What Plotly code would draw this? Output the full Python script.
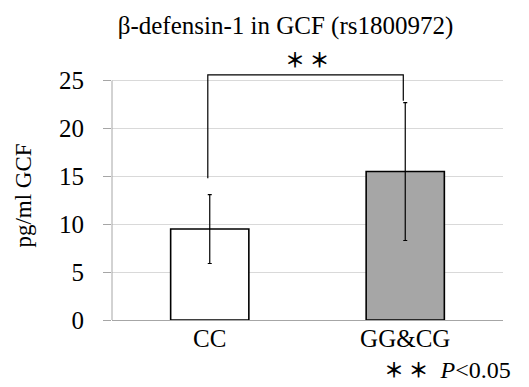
import plotly.graph_objects as go

categories = ["CC", "GG&CG"]
means = [9.5, 15.5]
sd = [3.6, 7.2]
bar_colors = ["#ffffff", "#a6a6a6"]
y_ticks = [0, 5, 10, 15, 20, 25]

# significance bracket (category index, value)
bracket_x = [-0.01, -0.01, 0.99, 0.99]
bracket_y = [14.8, 25.6, 25.6, 22.9]

FONT = "Liberation Serif, Times New Roman, serif"
CJK = "Noto Sans CJK JP"

# the page body has an 8px default margin; size the figure to fit the window
W, H = 521, 379

fig = go.Figure()
fig.add_trace(go.Bar(
    x=[0, 1], y=means, width=0.4,
    marker=dict(color=bar_colors, line=dict(color="#000000", width=1.6)),
    error_y=dict(type="data", array=sd, visible=True, color="#000000",
                 thickness=1.2, width=2),
    showlegend=False,
))
fig.add_trace(go.Scatter(
    x=bracket_x, y=bracket_y, mode="lines",
    line=dict(color="#000000", width=1.2),
    showlegend=False, hoverinfo="skip",
))
# y axis line only up to the top tick
fig.add_shape(type="line", xref="paper", yref="y", x0=0, x1=0,
              y0=y_ticks[0], y1=y_ticks[-1],
              line=dict(color="#a6a6a6", width=1))

fig.add_annotation(x=0.5, y=25.6, xref="x", yref="y", text="<b>＊ ＊</b>",
                   showarrow=False, yanchor="bottom", yshift=-1,
                   font=dict(family=CJK, size=20, color="#000000"))
fig.add_annotation(x=1.026, y=-0.197, xref="paper", yref="paper",
                   text="<span style='font-family:Noto Sans CJK JP;font-size:20px'><b>＊ ＊</b></span>&nbsp;&nbsp;<i>P</i><0.05",
                   showarrow=False, xanchor="right", yanchor="middle",
                   font=dict(family=FONT, size=24, color="#000000"))

fig.update_layout(
    width=W, height=H,
    margin=dict(l=104, r=26, t=63, b=67),
    paper_bgcolor="#ffffff", plot_bgcolor="#ffffff",
    title=dict(text="β-defensin-1 in GCF (rs1800972)", x=277.5 / W, xanchor="center",
               xref="container", y=1 - 17 / H, yref="container", yanchor="middle",
               font=dict(family=FONT, size=25, color="#000000")),
    xaxis=dict(tickvals=[0, 1], ticktext=categories, range=[-0.5, 1.5],
               showgrid=False, zeroline=False, showline=False, ticks="",
               ticklabelstandoff=1,
               tickfont=dict(family=FONT, size=25, color="#000000")),
    yaxis=dict(range=[0, 26], tickvals=y_ticks, showgrid=True,
               gridcolor="#d9d9d9", gridwidth=1, zeroline=True,
               zerolinecolor="#a6a6a6", zerolinewidth=1,
               showline=False,
               ticks="outside", ticklen=8, tickcolor="#a6a6a6",
               ticklabelstandoff=14,
               title=dict(text="pg/ml GCF", standoff=20,
                          font=dict(family=FONT, size=23, color="#000000")),
               tickfont=dict(family=FONT, size=25, color="#000000")),
)
fig.write_html("out.html")
